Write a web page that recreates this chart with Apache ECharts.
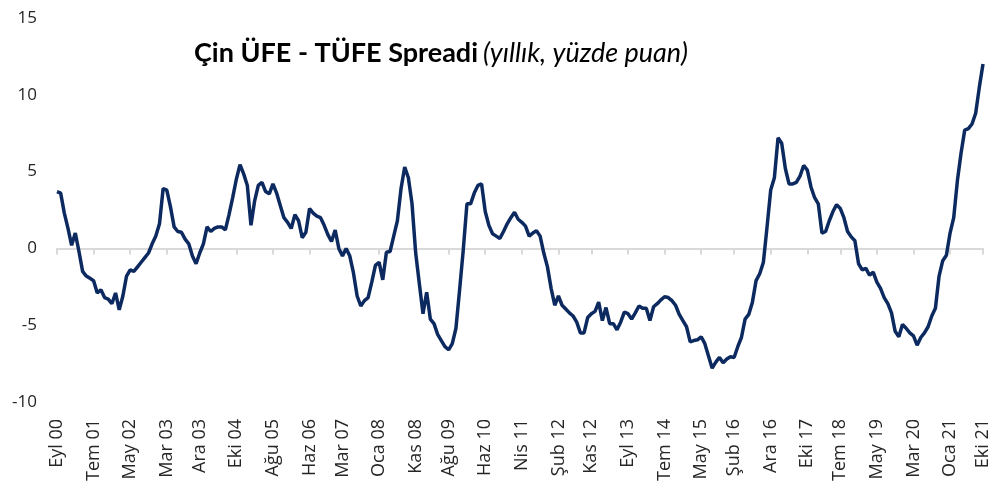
<!DOCTYPE html>
<html><head><meta charset="utf-8">
<script src="https://cdn.jsdelivr.net/npm/echarts@6/dist/echarts.min.js"></script>
<style>html,body{margin:0;padding:0;background:#fff}#c{width:995px;height:489px}</style>
</head><body><div id="c"></div>
<script>
var monthNames = ['Oca','Şub','Mar','Nis','May','Haz','Tem','Ağu','Eyl','Eki','Kas','Ara'];
var tickLabels = ['Eyl 00','Tem 01','May 02','Mar 03','Ara 03','Eki 04','Ağu 05','Haz 06','Mar 07','Oca 08','Kas 08','Ağu 09','Haz 10','Nis 11','Şub 12','Kas 12','Eyl 13','Tem 14','May 15','Şub 16','Ara 16','Eki 17','Tem 18','May 19','Mar 20','Oca 21','Eki 21'];
var spread = [
 3.7, 3.6, 2.3, 1.3, 0.2, 1.0, -0.2, -1.5, -1.8, -1.95,
 -2.1, -2.9, -2.7, -3.2, -3.3, -3.6, -2.9, -4.0, -3.1, -1.8,
 -1.4, -1.5, -1.2, -0.9, -0.6, -0.3, 0.3, 0.8, 1.6, 3.9,
 3.8, 2.7, 1.4, 1.1, 1.05, 0.6, 0.3, -0.5, -1.0, -0.3,
 0.3, 1.4, 1.1, 1.3, 1.4, 1.4, 1.2, 2.2, 3.3, 4.5,
 5.45, 4.85, 4.1, 1.5, 3.1, 4.1, 4.3, 3.7, 3.55, 4.2,
 3.6, 2.8, 2.0, 1.7, 1.3, 2.2, 1.8, 0.7, 1.05, 2.6,
 2.3, 2.1, 2.0, 1.5, 0.9, 0.45, 1.2, 0.0, -0.5, 0.0,
 -0.5, -1.6, -3.1, -3.75, -3.4, -3.2, -2.2, -1.1, -0.9, -2.05,
 -0.25, -0.2, 0.8, 1.8, 3.9, 5.3, 4.6, 2.9, -0.3, -2.3,
 -4.25, -2.85, -4.6, -4.9, -5.6, -6.0, -6.4, -6.6, -6.2, -5.2,
 -2.7, -0.1, 2.9, 2.9, 3.6, 4.1, 4.2, 2.4, 1.5, 0.95,
 0.8, 0.65, 1.1, 1.6, 2.0, 2.35, 1.9, 1.7, 1.45, 0.8,
 1.0, 1.15, 0.8, -0.3, -1.2, -2.6, -3.7, -3.1, -3.7, -3.95,
 -4.2, -4.4, -4.8, -5.5, -5.5, -4.5, -4.25, -4.1, -3.5, -4.7,
 -3.85, -4.9, -4.9, -5.3, -4.8, -4.15, -4.25, -4.6, -4.2, -3.75,
 -3.9, -3.9, -4.7, -3.8, -3.6, -3.35, -3.15, -3.2, -3.4, -3.7,
 -4.3, -4.7, -5.1, -6.08, -6.0, -5.95, -5.75, -6.2, -7.0, -7.8,
 -7.4, -7.1, -7.45, -7.2, -7.05, -7.1, -6.4, -5.8, -4.6, -4.3,
 -3.5, -2.1, -1.65, -0.9, 1.4, 3.8, 4.6, 7.2, 6.85, 5.2,
 4.2, 4.2, 4.3, 4.7, 5.4, 5.1, 4.0, 3.3, 2.9, 1.0,
 1.1, 1.8, 2.4, 2.85, 2.6, 2.0, 1.1, 0.75, 0.5, -1.0,
 -1.4, -1.3, -1.75, -1.55, -2.2, -2.6, -3.2, -3.6, -4.2, -5.4,
 -5.75, -4.95, -5.2, -5.5, -5.7, -6.3, -5.8, -5.5, -5.1, -4.4,
 -3.9, -1.8, -0.8, -0.45, 1.0, 2.0, 4.4, 6.2, 7.7, 7.8,
 8.1, 8.8, 10.5, 12.0
];
var startYear = 2000, startMonth = 8; // Eylül 2000
var categories = spread.map(function (_, i) {
  var m = startMonth + i;
  var y = startYear + Math.floor(m / 12);
  return monthNames[m % 12] + ' ' + String(y % 100).padStart(2, '0');
});
function isTick(idx, val) { return tickLabels.indexOf(val) >= 0; }

var chart = echarts.init(document.getElementById('c'));
chart.setOption({
  animation: false,
  title: {
    text: '{b|Çin ÜFE - TÜFE Spreadi} {i|(yıllık, yüzde puan)}',
    left: 189, top: 35,
    textStyle: {
      rich: {
        b: { fontFamily: 'Lato', fontWeight: 'bold', fontSize: 27, color: '#000' },
        i: { fontFamily: 'Lato', fontWeight: 'normal', fontStyle: 'italic', fontSize: 27, color: '#000' }
      }
    }
  },
  grid: { left: 57, right: 12, top: 18, bottom: 87 },
  xAxis: [{
    type: 'category', data: categories, boundaryGap: false,
    axisLine: { onZero: false, show: false },
    axisTick: { show: false },
    axisLabel: { interval: isTick, rotate: 90, margin: 17, fontFamily: 'Open Sans', fontSize: 18, color: '#262626' },
    splitLine: { show: false }
  }, {
    type: 'category', data: categories, boundaryGap: false, position: 'bottom',
    axisLine: { onZero: true, show: true, lineStyle: { color: '#d9d9d9', width: 2 } },
    axisTick: { show: true, interval: isTick, length: 6, lineStyle: { color: '#d9d9d9', width: 2 } },
    axisLabel: { show: false },
    splitLine: { show: false }
  }],
  yAxis: {
    type: 'value', min: -10, max: 15, interval: 5,
    axisLine: { show: false }, axisTick: { show: false }, splitLine: { show: false },
    axisLabel: { margin: 20, fontFamily: 'Open Sans', fontSize: 17, color: '#262626' }
  },
  series: [{
    type: 'line', data: spread, xAxisIndex: 0, showSymbol: false,
    lineStyle: { color: '#0c2a60', width: 3.5 }, itemStyle: { color: '#0c2a60' }
  }]
});
</script></body></html>
